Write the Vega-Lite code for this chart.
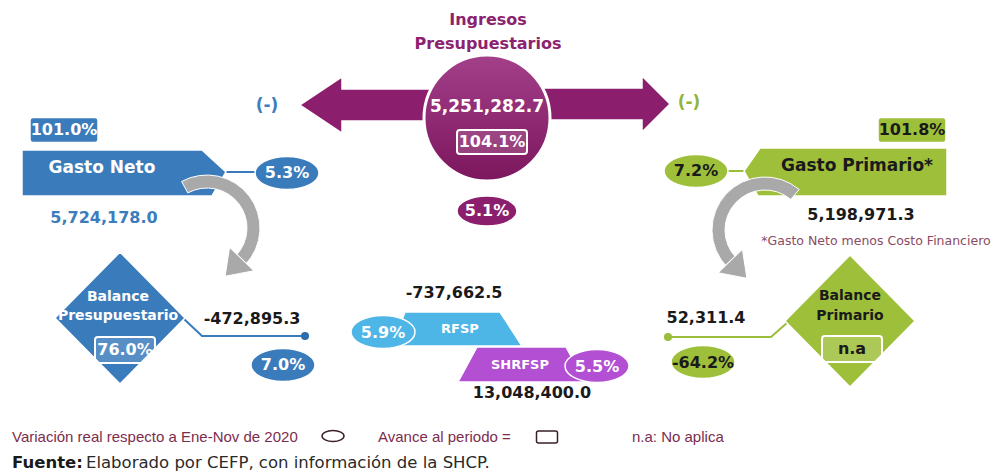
{
  "$schema": "https://vega.github.io/schema/vega-lite/v6.json",
  "width": 1007,
  "height": 474,
  "autosize": {"type": "fit", "contains": "padding"},
  "padding": 0,
  "background": "white",
  "config": {"view": {"stroke": null}},
  "encoding": {
    "x": {"field": "x", "type": "quantitative", "scale": {"domain": [0, 1007], "nice": false, "zero": false}, "axis": null},
    "y": {"field": "y", "type": "quantitative", "scale": {"domain": [0, 474], "nice": false, "zero": false, "reverse": true}, "axis": null}
  },
  "resolve": {"scale": {"color": "independent", "shape": "independent"}},
  "layer": [
    {
      "data": {"values": [
        {"conector": "gn", "grupo": "Gasto Neto", "orden": 1, "x": 222, "y": 172},
        {"conector": "gn", "grupo": "Gasto Neto", "orden": 2, "x": 258, "y": 172},
        {"conector": "bp", "grupo": "Gasto Neto", "orden": 1, "x": 184, "y": 319},
        {"conector": "bp", "grupo": "Gasto Neto", "orden": 2, "x": 202, "y": 336},
        {"conector": "bp", "grupo": "Gasto Neto", "orden": 3, "x": 305, "y": 336},
        {"conector": "gp", "grupo": "Gasto Primario", "orden": 1, "x": 724, "y": 171},
        {"conector": "gp", "grupo": "Gasto Primario", "orden": 2, "x": 748, "y": 171},
        {"conector": "bpr", "grupo": "Gasto Primario", "orden": 1, "x": 788, "y": 322},
        {"conector": "bpr", "grupo": "Gasto Primario", "orden": 2, "x": 771, "y": 337},
        {"conector": "bpr", "grupo": "Gasto Primario", "orden": 3, "x": 668, "y": 337}
      ]},
      "mark": {"type": "line", "strokeWidth": 2},
      "encoding": {
        "detail": {"field": "conector"},
        "order": {"field": "orden", "type": "quantitative"},
        "color": {"field": "grupo", "type": "nominal", "legend": null,
          "scale": {"domain": ["Ingresos", "Gasto Neto", "Gasto Primario", "RFSP", "SHRFSP"], "range": ["#8C1F6D", "#3A7BBB", "#9ABD3C", "#4DB6E6", "#B24FD3"]}}
      }
    },
    {
      "data": {"values": [
        {"grupo": "Gasto Neto", "x": 305, "y": 336},
        {"grupo": "Gasto Primario", "x": 668, "y": 337}
      ]},
      "mark": {"type": "point", "shape": "circle", "filled": true, "opacity": 1, "size": 64},
      "encoding": {
        "color": {"field": "grupo", "type": "nominal", "legend": null,
          "scale": {"domain": ["Ingresos", "Gasto Neto", "Gasto Primario", "RFSP", "SHRFSP"], "range": ["#8C1F6D", "#2F6EAD", "#9ABD3C", "#4DB6E6", "#B24FD3"]}}
      }
    },
    {
      "data": {"values": [
        {"forma": "flecha_izq", "grupo": "Ingresos", "x": 380, "y": 105},
        {"forma": "flecha_der", "grupo": "Ingresos", "x": 600, "y": 104},
        {"forma": "elipse_chica", "grupo": "Ingresos", "x": 487, "y": 211},
        {"forma": "banner_izq", "grupo": "Gasto Neto", "x": 120, "y": 173},
        {"forma": "caja", "grupo": "Gasto Neto", "x": 64, "y": 130},
        {"forma": "elipse", "grupo": "Gasto Neto", "x": 287, "y": 173},
        {"forma": "rombo", "grupo": "Gasto Neto", "x": 120, "y": 318},
        {"forma": "elipse", "grupo": "Gasto Neto", "x": 283, "y": 365},
        {"forma": "trapecio_rfsp", "grupo": "RFSP", "x": 460, "y": 329},
        {"forma": "elipse", "grupo": "RFSP", "x": 383, "y": 332},
        {"forma": "trapecio_shrfsp", "grupo": "SHRFSP", "x": 520, "y": 364},
        {"forma": "elipse", "grupo": "SHRFSP", "x": 597, "y": 366},
        {"forma": "banner_der", "grupo": "Gasto Primario", "x": 850, "y": 172},
        {"forma": "caja", "grupo": "Gasto Primario", "x": 912, "y": 130},
        {"forma": "elipse", "grupo": "Gasto Primario", "x": 696, "y": 171},
        {"forma": "rombo", "grupo": "Gasto Primario", "x": 850, "y": 321},
        {"forma": "elipse", "grupo": "Gasto Primario", "x": 703, "y": 362}
      ]},
      "mark": {"type": "point", "filled": true, "opacity": 1, "size": 4, "stroke": "white", "strokeWidth": 1.5},
      "encoding": {
        "color": {"field": "grupo", "type": "nominal", "legend": null,
          "scale": {"domain": ["Ingresos", "Gasto Neto", "Gasto Primario", "RFSP", "SHRFSP"], "range": ["#8C1F6D", "#3A7BBB", "#9EBF3A", "#4DB6E6", "#B24FD3"]}},
        "shape": {"field": "forma", "type": "nominal", "legend": null,
          "scale": {
            "domain": ["flecha_izq", "flecha_der", "elipse", "elipse_chica", "banner_izq", "banner_der", "rombo", "trapecio_rfsp", "trapecio_shrfsp", "caja"],
            "range": [
              "M -80 0 L -38 -28 L -38 -16 L 54 -16 L 54 16 L -38 16 L -38 28 Z",
              "M -60 -16 L 42 -16 L 42 -28 L 70 0 L 42 28 L 42 16 L -60 16 Z",
              "M -32 0 A 32 16.5 0 1 0 32 0 A 32 16.5 0 1 0 -32 0 Z",
              "M -30 0 A 30 15 0 1 0 30 0 A 30 15 0 1 0 -30 0 Z",
              "M -98 -23 L 82 -23 L 106 -1 L 92 23 L -98 23 Z",
              "M -90 -24 L 97 -24 L 97 24 L -92 24 L -106 -1 Z",
              "M 0 -66 L 65 0 L 0 66 L -65 0 Z",
              "M -55 -17 L 40 -17 L 62 17 L -68 17 Z",
              "M -43 -17 L 46 -17 L 65 18 L -62 18 Z",
              "M -31 -12.5 L 31 -12.5 Q 34 -12.5 34 -9.5 L 34 9.5 Q 34 12.5 31 12.5 L -31 12.5 Q -34 12.5 -34 9.5 L -34 -9.5 Q -34 -12.5 -31 -12.5 Z"
            ]
          }}
      }
    },
    {
      "data": {"values": [{"x": 487, "y": 118}]},
      "mark": {"type": "point", "shape": "circle", "size": 15876, "filled": true, "opacity": 1, "stroke": "white", "strokeWidth": 3,
        "fill": {"gradient": "linear", "x1": 0, "y1": 0, "x2": 0, "y2": 1, "stops": [{"offset": 0, "color": "#A3408A"}, {"offset": 1, "color": "#7C165D"}]}}
    },
    {
      "data": {"values": [
        {"forma": "marco_ancho", "x": 492, "y": 142},
        {"forma": "marco", "x": 125, "y": 350},
        {"forma": "marco", "x": 852, "y": 349}
      ]},
      "mark": {"type": "point", "filled": true, "opacity": 1, "size": 4, "fill": "white", "fillOpacity": 0.15, "stroke": "white", "strokeWidth": 2},
      "encoding": {
        "shape": {"field": "forma", "type": "nominal", "legend": null,
          "scale": {
            "domain": ["marco_ancho", "marco"],
            "range": [
              "M -32 -12 L 32 -12 Q 35 -12 35 -9 L 35 9 Q 35 12 32 12 L -32 12 Q -35 12 -35 9 L -35 -9 Q -35 -12 -32 -12 Z",
              "M -27 -13 L 27 -13 Q 30 -13 30 -10 L 30 10 Q 30 13 27 13 L -27 13 Q -30 13 -30 10 L -30 -10 Q -30 -13 -27 -13 Z"
            ]
          }}
      }
    },
    {
      "data": {"values": [
        {"forma": "elipse", "x": 333, "y": 436},
        {"forma": "caja", "x": 547, "y": 437}
      ]},
      "mark": {"type": "point", "filled": false, "opacity": 1, "size": 4, "stroke": "#3A1E2C", "strokeWidth": 1.5},
      "encoding": {
        "shape": {"field": "forma", "type": "nominal", "legend": null,
          "scale": {
            "domain": ["elipse", "caja"],
            "range": [
              "M -11 0 A 11 5.5 0 1 0 11 0 A 11 5.5 0 1 0 -11 0 Z",
              "M -8.5 -6 L 8.5 -6 Q 10.5 -6 10.5 -4 L 10.5 4 Q 10.5 6 8.5 6 L -8.5 6 Q -10.5 6 -10.5 4 L -10.5 -4 Q -10.5 -6 -8.5 -6 Z"
            ]
          }}
      }
    },
    {
      "data": {"values": [{"x": 207, "y": 228}]},
      "mark": {"type": "arc", "theta": -0.5, "theta2": 2.34, "radius": 53, "radius2": 40, "fill": "#A9A9A9", "stroke": "white", "strokeWidth": 1}
    },
    {
      "data": {"values": [{"x": 240.4, "y": 260.4}]},
      "mark": {"type": "point", "shape": "M -17 2 L 17 2 L 0 -22 Z", "size": 4, "angle": 224, "filled": true, "opacity": 1, "fill": "#A9A9A9", "stroke": "white", "strokeWidth": 1}
    },
    {
      "data": {"values": [{"x": 765, "y": 230}]},
      "mark": {"type": "arc", "theta": -2.34, "theta2": 0.7, "radius": 53, "radius2": 40, "fill": "#A9A9A9", "stroke": "white", "strokeWidth": 1}
    },
    {
      "data": {"values": [{"x": 731.6, "y": 262.4}]},
      "mark": {"type": "point", "shape": "M -17 2 L 17 2 L 0 -22 Z", "size": 4, "angle": 136, "filled": true, "opacity": 1, "fill": "#A9A9A9", "stroke": "white", "strokeWidth": 1}
    },
    {
      "data": {"values": [
        {"texto": "Ingresos", "x": 488, "y": 20},
        {"texto": "Presupuestarios", "x": 488, "y": 44}
      ]},
      "mark": {"type": "text", "font": "DejaVu Sans", "fontWeight": "bold", "fontSize": 16, "align": "center", "baseline": "middle", "color": "#8C2270"},
      "encoding": {"text": {"field": "texto"}}
    },
    {
      "data": {"values": [
        {"texto": "5,251,282.7", "tono": "blanco", "x": 487, "y": 107},
        {"texto": "Gasto Neto", "tono": "blanco", "x": 102, "y": 168},
        {"texto": "Gasto Primario*", "tono": "negro", "x": 857, "y": 166},
        {"texto": "(-)", "tono": "azul", "x": 267, "y": 106},
        {"texto": "(-)", "tono": "verde", "x": 689, "y": 103}
      ]},
      "mark": {"type": "text", "font": "DejaVu Sans", "fontWeight": "bold", "fontSize": 17, "align": "center", "baseline": "middle"},
      "encoding": {
        "text": {"field": "texto"},
        "color": {"field": "tono", "type": "nominal", "legend": null,
          "scale": {"domain": ["blanco", "negro", "azul", "verde"], "range": ["#ffffff", "#1a1a1a", "#3C7DBD", "#93B43A"]}}
      }
    },
    {
      "data": {"values": [
        {"texto": "104.1%", "tono": "blanco", "x": 492, "y": 142},
        {"texto": "5.1%", "tono": "blanco", "x": 487, "y": 211},
        {"texto": "101.0%", "tono": "blanco", "x": 64, "y": 130},
        {"texto": "5.3%", "tono": "blanco", "x": 287, "y": 173},
        {"texto": "5,724,178.0", "tono": "azul", "x": 104, "y": 218},
        {"texto": "76.0%", "tono": "blanco", "x": 125, "y": 350},
        {"texto": "-472,895.3", "tono": "negro", "x": 252, "y": 319},
        {"texto": "7.0%", "tono": "blanco", "x": 283, "y": 365},
        {"texto": "-737,662.5", "tono": "negro", "x": 454, "y": 293},
        {"texto": "5.9%", "tono": "blanco", "x": 383, "y": 333},
        {"texto": "5.5%", "tono": "blanco", "x": 597, "y": 367},
        {"texto": "13,048,400.0", "tono": "negro", "x": 532, "y": 393},
        {"texto": "101.8%", "tono": "negro", "x": 912, "y": 130},
        {"texto": "7.2%", "tono": "negro", "x": 696, "y": 171},
        {"texto": "5,198,971.3", "tono": "negro", "x": 861, "y": 215},
        {"texto": "n.a", "tono": "negro", "x": 852, "y": 349},
        {"texto": "52,311.4", "tono": "negro", "x": 706, "y": 318},
        {"texto": "-64.2%", "tono": "negro", "x": 703, "y": 363}
      ]},
      "mark": {"type": "text", "font": "DejaVu Sans", "fontWeight": "bold", "fontSize": 16, "align": "center", "baseline": "middle"},
      "encoding": {
        "text": {"field": "texto"},
        "color": {"field": "tono", "type": "nominal", "legend": null,
          "scale": {"domain": ["blanco", "negro", "azul", "verde"], "range": ["#ffffff", "#1a1a1a", "#3C7DBD", "#93B43A"]}}
      }
    },
    {
      "data": {"values": [
        {"texto": "Balance", "tono": "blanco", "x": 118, "y": 297},
        {"texto": "Presupuestario", "tono": "blanco", "x": 118, "y": 316},
        {"texto": "Balance", "tono": "negro", "x": 850, "y": 296},
        {"texto": "Primario", "tono": "negro", "x": 850, "y": 316}
      ]},
      "mark": {"type": "text", "font": "DejaVu Sans", "fontWeight": "bold", "fontSize": 14, "align": "center", "baseline": "middle"},
      "encoding": {
        "text": {"field": "texto"},
        "color": {"field": "tono", "type": "nominal", "legend": null,
          "scale": {"domain": ["blanco", "negro", "azul", "verde"], "range": ["#ffffff", "#1a1a1a", "#3C7DBD", "#93B43A"]}}
      }
    },
    {
      "data": {"values": [
        {"texto": "RFSP", "x": 460, "y": 329},
        {"texto": "SHRFSP", "x": 520, "y": 365}
      ]},
      "mark": {"type": "text", "font": "DejaVu Sans", "fontWeight": "bold", "fontSize": 13, "align": "center", "baseline": "middle", "color": "#ffffff"},
      "encoding": {"text": {"field": "texto"}}
    },
    {
      "data": {"values": [
        {"texto": "*Gasto Neto menos  Costo Financiero", "x": 876, "y": 241}
      ]},
      "mark": {"type": "text", "font": "DejaVu Sans", "fontSize": 12.5, "align": "center", "baseline": "middle", "color": "#8A4B63"},
      "encoding": {"text": {"field": "texto"}}
    },
    {
      "data": {"values": [
        {"texto": "Variación real respecto a Ene-Nov de 2020", "x": 12, "y": 437},
        {"texto": "Avance al periodo =", "x": 378, "y": 437},
        {"texto": "n.a: No aplica", "x": 632, "y": 437}
      ]},
      "mark": {"type": "text", "font": "Liberation Sans", "fontSize": 15, "align": "left", "baseline": "middle", "color": "#7B2D4E"},
      "encoding": {"text": {"field": "texto"}}
    },
    {
      "data": {"values": [
        {"texto": "Fuente:", "x": 12, "y": 463}
      ]},
      "mark": {"type": "text", "font": "DejaVu Sans", "fontWeight": "bold", "fontSize": 16.5, "align": "left", "baseline": "middle", "color": "#1a1a1a"},
      "encoding": {"text": {"field": "texto"}}
    },
    {
      "data": {"values": [
        {"texto": "Elaborado por CEFP, con información de la SHCP.", "x": 86, "y": 463}
      ]},
      "mark": {"type": "text", "font": "DejaVu Sans", "fontSize": 16.5, "align": "left", "baseline": "middle", "color": "#2a2a2a"},
      "encoding": {"text": {"field": "texto"}}
    }
  ]
}
